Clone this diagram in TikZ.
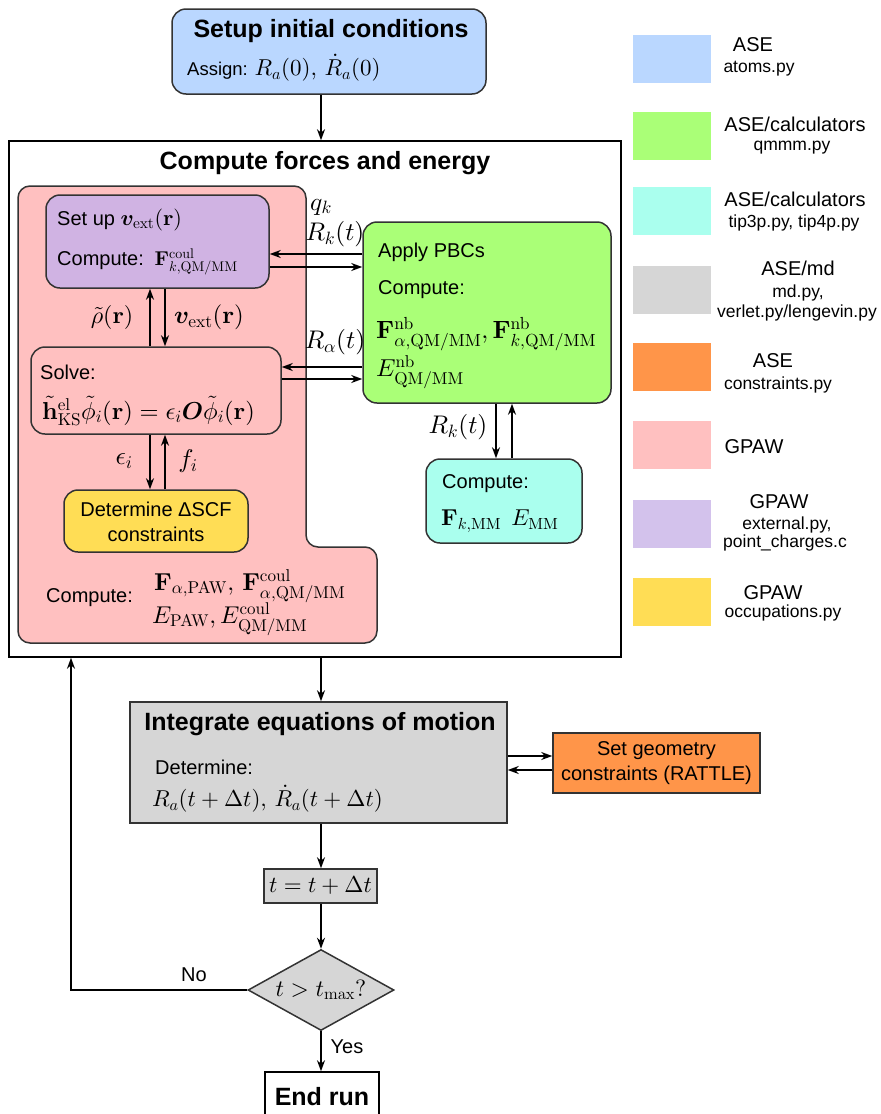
\documentclass[tikz,border=0pt]{standalone}
\usepackage{amsmath}
\usepackage{bm}
\usepackage[no-math]{fontspec}
\setmainfont{Liberation Sans}
\usetikzlibrary{arrows.meta,shapes.geometric}
\DeclareFontShape{OT1}{cmr}{m}{n}{<-8.5>cmr7<8.5->cmr10}{}
\DeclareFontShape{OT1}{cmr}{bx}{n}{<-8.5>cmbx7<8.5->cmbx10}{}
\DeclareFontShape{OML}{cmm}{m}{it}{<-8.5>cmmi7<8.5->cmmi10}{\skewchar\font=127}
\DeclareFontShape{OML}{cmm}{b}{it}{<-8.5>cmmib7<8.5->cmmib10}{\skewchar\font=127}
\DeclareFontShape{OMS}{cmsy}{m}{n}{<-8.5>cmsy7<8.5->cmsy10}{\skewchar\font=48}
\DeclareFontShape{OMS}{cmsy}{b}{n}{<-8.5>cmbsy7<8.5->cmbsy10}{\skewchar\font=48}
\DeclareFontShape{OMX}{cmex}{m}{n}{<->cmex10}{}
\definecolor{cblue}{HTML}{BAD7FF}
\definecolor{cgreen}{HTML}{AAFF77}
\definecolor{ccyan}{HTML}{AAFFEE}
\definecolor{cgrey}{HTML}{D6D6D6}
\definecolor{corange}{HTML}{FF9549}
\definecolor{cpink}{HTML}{FFC0C0}
\definecolor{cpurple}{HTML}{D0B3E3}
\definecolor{clpurple}{HTML}{D3C2EC}
\definecolor{cyellow}{HTML}{FFDD55}
\definecolor{cedge}{HTML}{333333}
\newcommand\msz[2]{{\fontsize{#1}{#1}\selectfont$#2$}}
\tikzset{
  box/.style={draw=cedge, line width=1.5pt, rounded corners=14pt, inner sep=0pt},
  sqbox/.style={draw=cedge, line width=1.5pt, inner sep=0pt},
  arr/.style={-{Stealth[length=11pt,width=8pt,inset=3.5pt]}, line width=1.6pt, black},
  txt/.style={inner sep=0pt, font=\fontsize{20}{24}\selectfont},
  mth/.style={inner sep=0pt, font=\fontsize{24.5}{29}\selectfont},
  lbl/.style={inner sep=0pt, font=\fontsize{25.5}{29}\selectfont},
  ttl/.style={inner sep=0pt, font=\fontsize{25}{30}\selectfont\bfseries},
  sub/.style={inner sep=0pt, font=\fontsize{17.5}{21}\selectfont},
  swatch/.style={inner sep=0pt, minimum width=78pt, minimum height=48pt, anchor=north west},
}
\begin{document}
\begin{tikzpicture}[x=1pt,y=-1pt]
\useasboundingbox (0,0) rectangle (881,1114);
\coordinate (cx) at (321,0);
\coordinate (loopx) at (71,0);

% top box
\node[box, fill=cblue, minimum width=314pt, minimum height=85pt] (top) at (329,51.5) {};
\node[ttl] (toptitle) at (331,31) {Setup initial conditions};
\node[inner sep=0pt, font=\fontsize{18.5}{22}\selectfont, anchor=west] (assign) at (187,68) {Assign: \msz{23}{R_a(0),\,\dot R_a(0)}};

% outer box
\node[sqbox, draw=black, minimum width=612pt, minimum height=516pt] (outer) at (315,399) {};
\node[ttl] (outertitle) at (325,163) {Compute forces and energy};

% pink region
\draw[draw=cedge, fill=cpink, line width=1.5pt, rounded corners=12pt]
  (18,186) -- (306,186) -- (306,547) -- (377,547) -- (377,643) -- (18,643) -- cycle;

% purple box
\node[box, fill=cpurple, minimum width=223pt, minimum height=93pt] (purple) at (157.5,241.5) {};
\node[txt, anchor=west] (setup) at (57,220) {Set up \msz{22}{\bm v_{\mathrm{ext}}(\mathbf r)}};
\node[txt, anchor=west] (pcomp) at (57,262) {Compute: \,\msz{20}{\mathbf F^{\mathrm{coul}}_{k,\mathrm{QM/MM}}}};

% solve box
\node[box, fill=cpink, minimum width=250pt, minimum height=87pt] (solve) at (156,390.5) {};
\node[txt, anchor=west] (solvet) at (40,372) {Solve:};
\node[mth, anchor=west] (solveeq) at (42,411) {$\tilde{\mathbf h}^{\mathrm{el}}_{\mathrm{KS}}\tilde\phi_i(\mathbf r)=\epsilon_i\bm O\tilde\phi_i(\mathbf r)$};

% yellow box
\node[box, fill=cyellow, minimum width=184pt, minimum height=62pt] (yellow) at (156,521) {};
\node[txt, align=center] (yellowt) at (156,522) {Determine ΔSCF\\[1pt]constraints};

% pink compute
\node[txt, anchor=west] (pinkc) at (46,598) {Compute:};
\node[mth, anchor=west] (pinkm1) at (154,586) {$\mathbf F_{\alpha,\mathrm{PAW}},\,\mathbf F^{\mathrm{coul}}_{\alpha,\mathrm{QM/MM}}$};
\node[mth, anchor=west, font=\fontsize{24.3}{29}\selectfont] (pinkm2) at (152,619) {$E_{\mathrm{PAW}},E^{\mathrm{coul}}_{\mathrm{QM/MM}}$};

% green box
\node[box, fill=cgreen, minimum width=248pt, minimum height=181pt] (green) at (487,312.5) {};
\node[txt, anchor=west] (pbc) at (378,252) {Apply PBCs};
\node[txt, anchor=west] (gcomp) at (378,290) {Compute:};
\node[mth, anchor=west, font=\fontsize{25}{29}\selectfont] (gm1) at (376,334) {$\mathbf F^{\mathrm{nb}}_{\alpha,\mathrm{QM/MM}},\mathbf F^{\mathrm{nb}}_{k,\mathrm{QM/MM}}$};
\node[mth, anchor=west] (gm2) at (376,372) {$E^{\mathrm{nb}}_{\mathrm{QM/MM}}$};

% cyan box
\node[box, fill=ccyan, minimum width=156pt, minimum height=84pt] (cyan) at (504,501) {};
\node[txt, anchor=west] (ccomp) at (442,484) {Compute:};
\node[mth, anchor=west, font=\fontsize{23}{27}\selectfont] (cm) at (441,521) {$\mathbf F_{k,\mathrm{MM}}\;\, E_{\mathrm{MM}}$};

% integrate box
\node[sqbox, fill=cgrey, minimum width=377pt, minimum height=121pt] (integ) at (318.5,762.5) {};
\node[ttl] (integt) at (320,724) {Integrate equations of motion};
\node[txt, anchor=west] (det) at (155,767) {Determine:};
\node[mth, anchor=west, font=\fontsize{23}{27}\selectfont] (detm) at (152,799) {$R_a(t+\Delta t),\,\dot R_a(t+\Delta t)$};

% orange box
\node[sqbox, fill=corange, minimum width=207pt, minimum height=60pt] (orange) at (656.5,763) {};
\node[txt, align=center] (oranget) at (656.5,763) {Set geometry\\[1pt]constraints (RATTLE)};

% t box
\node[sqbox, fill=cgrey, minimum width=113pt, minimum height=34pt, font=\fontsize{23}{27}\selectfont] (tbox) at (320.5,886) {$t=t+\Delta t$};

% diamond
\node[diamond, draw=cedge, line width=1.5pt, fill=cgrey, inner sep=0pt, minimum width=146pt, minimum height=81pt, aspect=1.8, font=\fontsize{23.5}{27}\selectfont] (dia) at (321,990) {$t>t_{\mathrm{max}}?$};

% end run
\node[sqbox, draw=black, fill=white, minimum width=114pt, minimum height=52pt] (endrun) at (322,1098) {};
\node[ttl] (endt) at (322,1097) {End run};

% arrows main flow
\draw[arr] (top.south -| cx) -- (outer.north -| cx);
\draw[arr] (outer.south -| cx) -- (integ.north -| cx);
\draw[arr] (integ.south -| cx) -- (tbox.north -| cx);
\draw[arr] (tbox.south -| cx) -- (dia.north);
\draw[arr] (dia.south) -- (endrun.north -| dia.south);
\draw[arr] (dia.west) -- (dia.west -| loopx) -- (outer.south -| loopx);
\node[txt] (no) at (194,975) {No};
\node[txt] (yes) at (347,1047) {Yes};

% purple <-> green
\coordinate (ya) at (0,254);
\coordinate (yb) at (0,267);
\draw[arr] (green.west |- ya) -- (purple.east |- ya);
\draw[arr] (purple.east |- yb) -- (green.west |- yb);
\node[lbl] (qk) at (321,207) {$q_k$};
\node[lbl] (rk1) at (335,234) {$R_k(t)$};

% solve <-> green
\coordinate (yc) at (0,367);
\coordinate (yd) at (0,379);
\draw[arr] (green.west |- yc) -- (solve.east |- yc);
\draw[arr] (solve.east |- yd) -- (green.west |- yd);
\node[lbl] (ral) at (335,342) {$R_\alpha(t)$};

% purple <-> solve
\coordinate (xa) at (150,0);
\coordinate (xb) at (165,0);
\draw[arr] (solve.north -| xa) -- (purple.south -| xa);
\draw[arr] (purple.south -| xb) -- (solve.north -| xb);
\node[lbl, font=\fontsize{24}{28}\selectfont] (rho) at (112,317) {$\tilde\rho(\mathbf r)$};
\node[lbl, font=\fontsize{25}{28}\selectfont] (vext) at (209,317) {$\bm v_{\mathrm{ext}}(\mathbf r)$};

% solve <-> yellow
\draw[arr] (solve.south -| xa) -- (yellow.north -| xa);
\draw[arr] (yellow.north -| xb) -- (solve.south -| xb);
\node[lbl] (eps) at (124,461) {$\epsilon_i$};
\node[lbl] (fi) at (188,461) {$f_i$};

% green <-> cyan
\coordinate (xc) at (496,0);
\coordinate (xd) at (512,0);
\draw[arr] (green.south -| xc) -- (cyan.north -| xc);
\draw[arr] (cyan.north -| xd) -- (green.south -| xd);
\node[lbl] (rk2) at (458,427) {$R_k(t)$};

% integrate <-> orange
\coordinate (ye) at (0,756);
\coordinate (yf) at (0,770);
\draw[arr] (integ.east |- ye) -- (orange.west |- ye);
\draw[arr] (orange.west |- yf) -- (integ.east |- yf);

% legend
\node[swatch, fill=cblue] (l1) at (633,35) {};
\node[txt] (l1a) at (753,45) {ASE};
\node[sub] (l1b) at (759,69) {atoms.py};
\node[swatch, fill=cgreen] (l2) at (633,112) {};
\node[txt] (l2a) at (795,124) {ASE/calculators};
\node[sub] (l2b) at (792,148) {qmmm.py};
\node[swatch, fill=ccyan] (l3) at (633,187) {};
\node[txt] (l3a) at (795,199) {ASE/calculators};
\node[sub] (l3b) at (794,223) {tip3p.py, tip4p.py};
\node[swatch, fill=cgrey] (l4) at (633,266) {};
\node[txt] (l4a) at (798,268) {ASE/md};
\node[sub] (l4b) at (798,293) {md.py,};
\node[sub] (l4c) at (797,313) {verlet.py/lengevin.py};
\node[swatch, fill=corange] (l5) at (633,343) {};
\node[txt] (l5a) at (773,361) {ASE};
\node[sub] (l5b) at (778,385) {constraints.py};
\node[swatch, fill=cpink] (l6) at (633,421) {};
\node[txt] (l6a) at (754,447) {GPAW};
\node[swatch, fill=clpurple] (l7) at (633,500) {};
\node[txt] (l7a) at (779,502) {GPAW};
\node[sub] (l7b) at (787,525) {external.py,};
\node[sub] (l7c) at (785,543) {point\_charges.c};
\node[swatch, fill=cyellow] (l8) at (633,578) {};
\node[txt] (l8a) at (773,593) {GPAW};
\node[sub] (l8b) at (783,613) {occupations.py};
\end{tikzpicture}
\end{document}
